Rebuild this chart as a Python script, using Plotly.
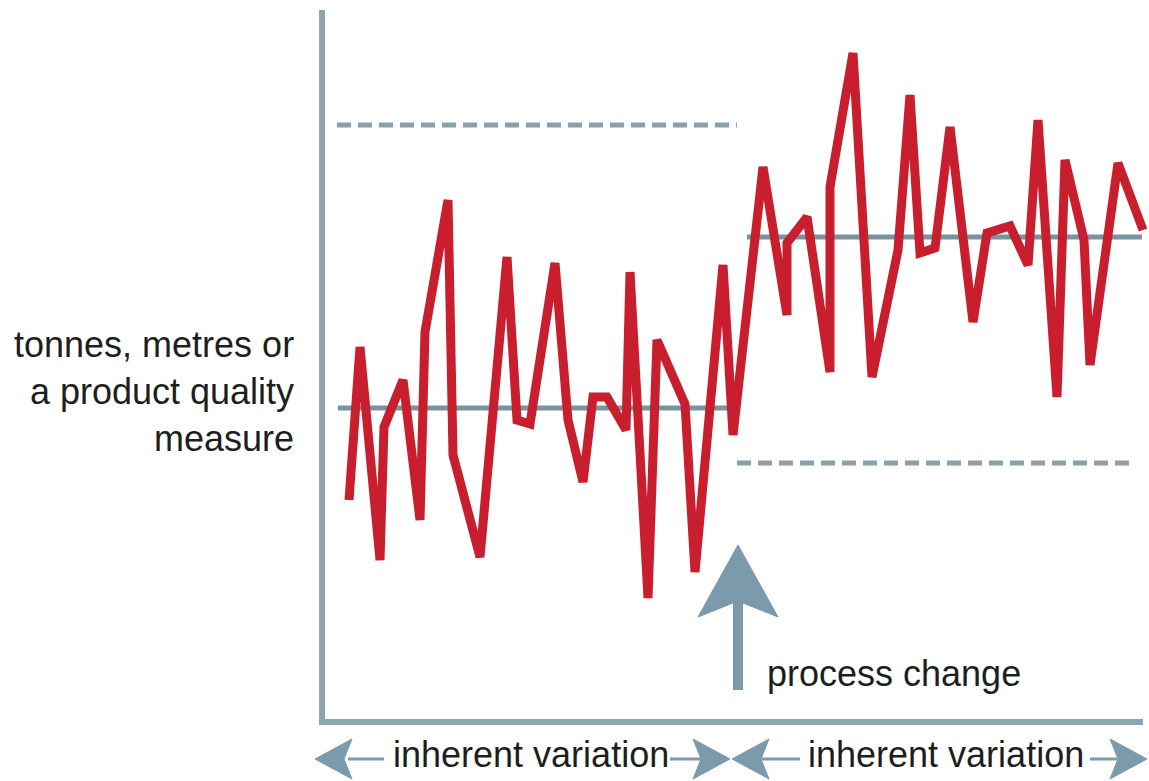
import plotly.graph_objects as go

# ---- data (time in arbitrary units, measure in arbitrary units above the baseline) ----
time = [27, 38, 58, 62, 81, 98, 103, 126, 131, 158, 185, 195, 208, 233, 246, 261, 271, 285,
        304, 308, 326, 335, 363, 373, 401, 411, 441, 465, 465, 485, 508, 508, 531, 550, 576,
        588, 598, 613, 628, 651, 665, 688, 706, 716, 735, 743, 762, 768, 796, 821]
measure = [222, 375, 162, 295, 342, 202, 390, 522, 267, 165, 465, 302, 298, 459, 302, 240,
           325, 325, 292, 450, 124, 382, 318, 150, 457, 287, 555, 407, 479, 505, 350, 535,
           669, 345, 472, 627, 469, 474, 595, 400, 489, 496, 457, 602, 325, 562, 482, 357,
           559, 492]

change_time = 416          # process change
mean_before = 314
mean_after = 485
upper_limit_before = 597
lower_limit_after = 259

segment_before = [16, 415]
segment_after = [425, 820]
limit_before = [15, 415]
limit_after = [415, 813]

y_label_lines = ["tonnes, metres or", "a product quality", "measure"]
period_label = "inherent variation"
change_label = "process change"

RED = "#c81e2d"
AXIS = "#8ea4b1"
MEAN = "#7a949f"
LIMIT = "#8aa0a9"
ARROW = "#7b9aab"
TEXT = "#1e1e1e"
FONT = "Liberation Sans, Arial, sans-serif"

fig = go.Figure()

def seg(xs, ys, color, width, dash=None):
    fig.add_trace(go.Scatter(x=xs, y=ys, mode="lines", hoverinfo="skip", showlegend=False,
                             line=dict(color=color, width=width, dash=dash)))

def poly(xs, ys, color):
    fig.add_trace(go.Scatter(x=xs, y=ys, mode="lines", fill="toself", fillcolor=color,
                             hoverinfo="skip", showlegend=False, line=dict(color=color, width=1)))

# axes
seg([0, 0], [-2, 712], AXIS, 6)
seg([-3, 821], [0, 0], AXIS, 6)

# mean and limit lines
seg(segment_before, [mean_before, mean_before], MEAN, 5)
seg(segment_after, [mean_after, mean_after], MEAN, 5)
seg(limit_before, [upper_limit_before, upper_limit_before], LIMIT, 5, "14px,7px")
seg(limit_after, [lower_limit_after, lower_limit_after], LIMIT, 5, "14px,7px")

# data series
fig.add_trace(go.Scatter(x=time, y=measure, mode="lines", hoverinfo="skip", showlegend=False,
                         line=dict(color=RED, width=9)))

# process change arrow
seg([change_time, change_time], [32, 122], ARROW, 10)
poly([change_time, change_time + 40, change_time, change_time - 40, change_time],
     [177, 105, 121, 105, 177], ARROW)

# bottom period arrows
ay = -37
def head(tip, direction):
    back = tip - direction * 37
    notch = tip - direction * 29
    poly([tip, back, notch, back, tip], [ay, ay + 20, ay, ay - 20, ay], ARROW)

head(-7, -1)
seg([26, 62], [ay, ay], ARROW, 3)
seg([348, 382], [ay, ay], ARROW, 3)
head(408, 1)
head(410, -1)
seg([440, 478], [ay, ay], ARROW, 3)
seg([768, 795], [ay, ay], ARROW, 3)
head(825, 1)

annotations = [
    dict(x=209, y=-32, text=period_label, xanchor="center", yanchor="middle"),
    dict(x=624, y=-32, text=period_label, xanchor="center", yanchor="middle"),
    dict(x=443, y=49, text=change_label, xanchor="left", yanchor="middle"),
    dict(x=-26, y=331, text="<br>".join(y_label_lines), xanchor="right", yanchor="middle",
         align="right"),
]
for a in annotations:
    a.update(xref="x", yref="y", showarrow=False, font=dict(family=FONT, size=36, color=TEXT))

fig.update_layout(
    width=1149, height=781,
    margin=dict(l=0, r=0, t=0, b=0, pad=0),
    paper_bgcolor="white", plot_bgcolor="white",
    xaxis=dict(range=[-322, 827], visible=False, fixedrange=True),
    yaxis=dict(range=[-59, 722], visible=False, fixedrange=True),
    annotations=annotations,
)

fig.write_html("out.html", config={"displayModeBar": False, "staticPlot": True},
               post_script="document.body.style.margin='0';document.body.style.overflow='hidden';")
